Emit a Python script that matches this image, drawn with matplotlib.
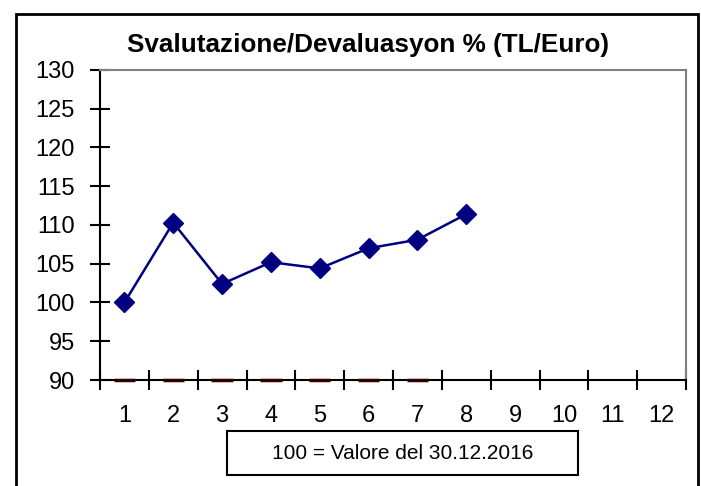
import matplotlib.pyplot as plt
import matplotlib.patches as patches
import numpy as np

plt.rcParams['font.family'] = ['Liberation Sans', 'DejaVu Sans']

months = list(range(1, 13))
cats = [1, 2, 3, 4, 5, 6, 7, 8]
values = [100.0, 110.3, 102.4, 105.2, 104.4, 107.0, 108.1, 111.4]
# hidden second series that shows as short dark dashes on the x axis
flat_cats = [1, 2, 3, 4, 5, 6, 7]
flat_vals = [90, 90, 90, 90, 90, 90, 90]

fig = plt.figure(figsize=(7.01, 4.86), dpi=100)
ax = fig.add_axes([100/701, 1-380/486, 586/701, 310/486])

# outer chart border
fig.patches.append(patches.Rectangle((16/701, -0.01), 682/701, 1.01 - 14/486,
                                     transform=fig.transFigure, fill=False,
                                     ec='black', lw=2))

ax.plot(cats, values, color='#000080', lw=1.8, marker='D', ms=10.5,
        mfc='#000080', mec='#000080', zorder=5)

for c, v in zip(flat_cats, flat_vals):
    ax.hlines(v, c - 0.22, c + 0.22, colors='#300000', lw=2.5, zorder=4,
              clip_on=False)

ax.set_xlim(0.5, 12.5)
ax.set_ylim(90, 130)
ax.set_yticks(np.arange(90, 131, 5))
ax.set_xticks(months)
ax.set_xticks(np.arange(0.5, 12.6, 1), minor=True)
ax.tick_params(axis='x', which='major', length=0, pad=18, labelsize=17)
ax.tick_params(axis='x', which='minor', direction='inout', length=14, width=1.5)
ax.tick_params(axis='y', direction='inout', length=14, width=1.5, labelsize=17,
               pad=11)

for s in ['top', 'right']:
    ax.spines[s].set_color('#808080')
    ax.spines[s].set_linewidth(1.5)
for s in ['left', 'bottom']:
    ax.spines[s].set_color('black')
    ax.spines[s].set_linewidth(1.5)

fig.text(368/701, 1-45/486, 'Svalutazione/Devaluasyon % (TL/Euro)',
         ha='center', va='center', fontsize=18.8, fontweight='bold')

fig.patches.append(patches.Rectangle((227/701, 1-475/486), 351/701, 44/486,
                                     transform=fig.transFigure, fill=False,
                                     ec='black', lw=1.5))
fig.text(403/701, 1-453/486, '100 = Valore del 30.12.2016', ha='center',
         va='center', fontsize=15)

fig.savefig('out.png', dpi=100)
